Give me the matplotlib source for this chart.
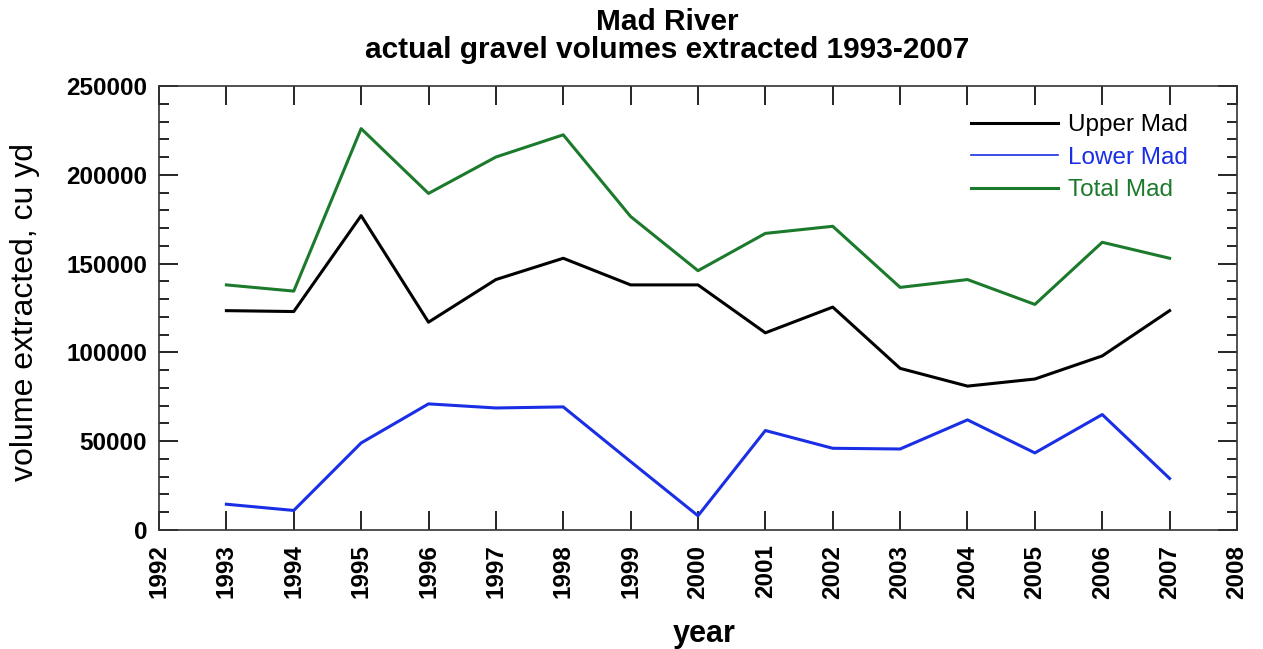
import matplotlib.pyplot as plt
import numpy as np

years = [1993, 1994, 1995, 1996, 1997, 1998, 1999, 2000, 2001, 2002, 2003, 2004, 2005, 2006, 2007]
upper = [123500, 123000, 177000, 117000, 141000, 153000, 138000, 138000, 111000, 125500, 91000, 81000, 85000, 98000, 123500]
lower = [14500, 11000, 49000, 71000, 68700, 69300, 38500, 8000, 56000, 46000, 45600, 62000, 43400, 65000, 29000]
total = [138000, 134500, 226000, 189500, 210000, 222500, 176500, 146000, 167000, 171000, 136600, 141000, 127000, 162000, 153000]

plt.rcParams['font.family'] = ['Liberation Sans', 'DejaVu Sans']

fig = plt.figure(figsize=(12.63, 6.49), dpi=100)
ax = fig.add_axes([0.1259, 0.1834, 0.8535, 0.6841])

ax.plot(years, upper, color='black', lw=2.2, label='Upper Mad')
ax.plot(years, lower, color='#1a2ee6', lw=2.2, label='Lower Mad')
ax.plot(years, total, color='#1c7a2c', lw=2.2, label='Total Mad')

ax.set_xlim(1992, 2008)
ax.set_ylim(0, 250000)
ax.set_xticks(np.arange(1992, 2009, 1))
ax.set_yticks(np.arange(0, 250001, 50000))
ax.set_yticks(np.arange(0, 250001, 10000), minor=True)
ax.tick_params(axis='both', which='major', direction='in', length=14, width=1.2,
               top=True, right=True, labelsize=17.5)
ax.tick_params(axis='x', which='major', pad=10.5)
ax.tick_params(axis='y', which='major', pad=8.5)
ax.tick_params(axis='y', which='minor', direction='in', length=7, width=1.2, right=True)
for lab in ax.get_xticklabels():
    lab.set_rotation(90)
    lab.set_fontweight('bold')
for lab in ax.get_yticklabels():
    lab.set_fontweight('bold')
for s in ax.spines.values():
    s.set_linewidth(1.2)
    s.set_color('#333333')

ax.set_xlabel('year', fontsize=22, fontweight='bold')
ax.xaxis.set_label_coords(0.506, -0.2)
ax.set_ylabel('volume extracted, cu yd', fontsize=23)
ax.yaxis.set_label_coords(-0.11, 0.491)
fig.text(0.528, 0.987, 'Mad River\nactual gravel volumes extracted 1993-2007', fontsize=21.5,
         fontweight='bold', ha='center', va='top', linespacing=1.0)

leg = ax.legend(loc='upper right', bbox_to_anchor=(0.963, 0.958), borderaxespad=0,
                frameon=False, fontsize=17.5, handlelength=3.55, handletextpad=0.4,
                labelspacing=0.43)
for line, text in zip(leg.get_lines(), leg.get_texts()):
    text.set_color(line.get_color())
leg.get_lines()[1].set_linewidth(1.2)

fig.savefig('out.png', dpi=100)
